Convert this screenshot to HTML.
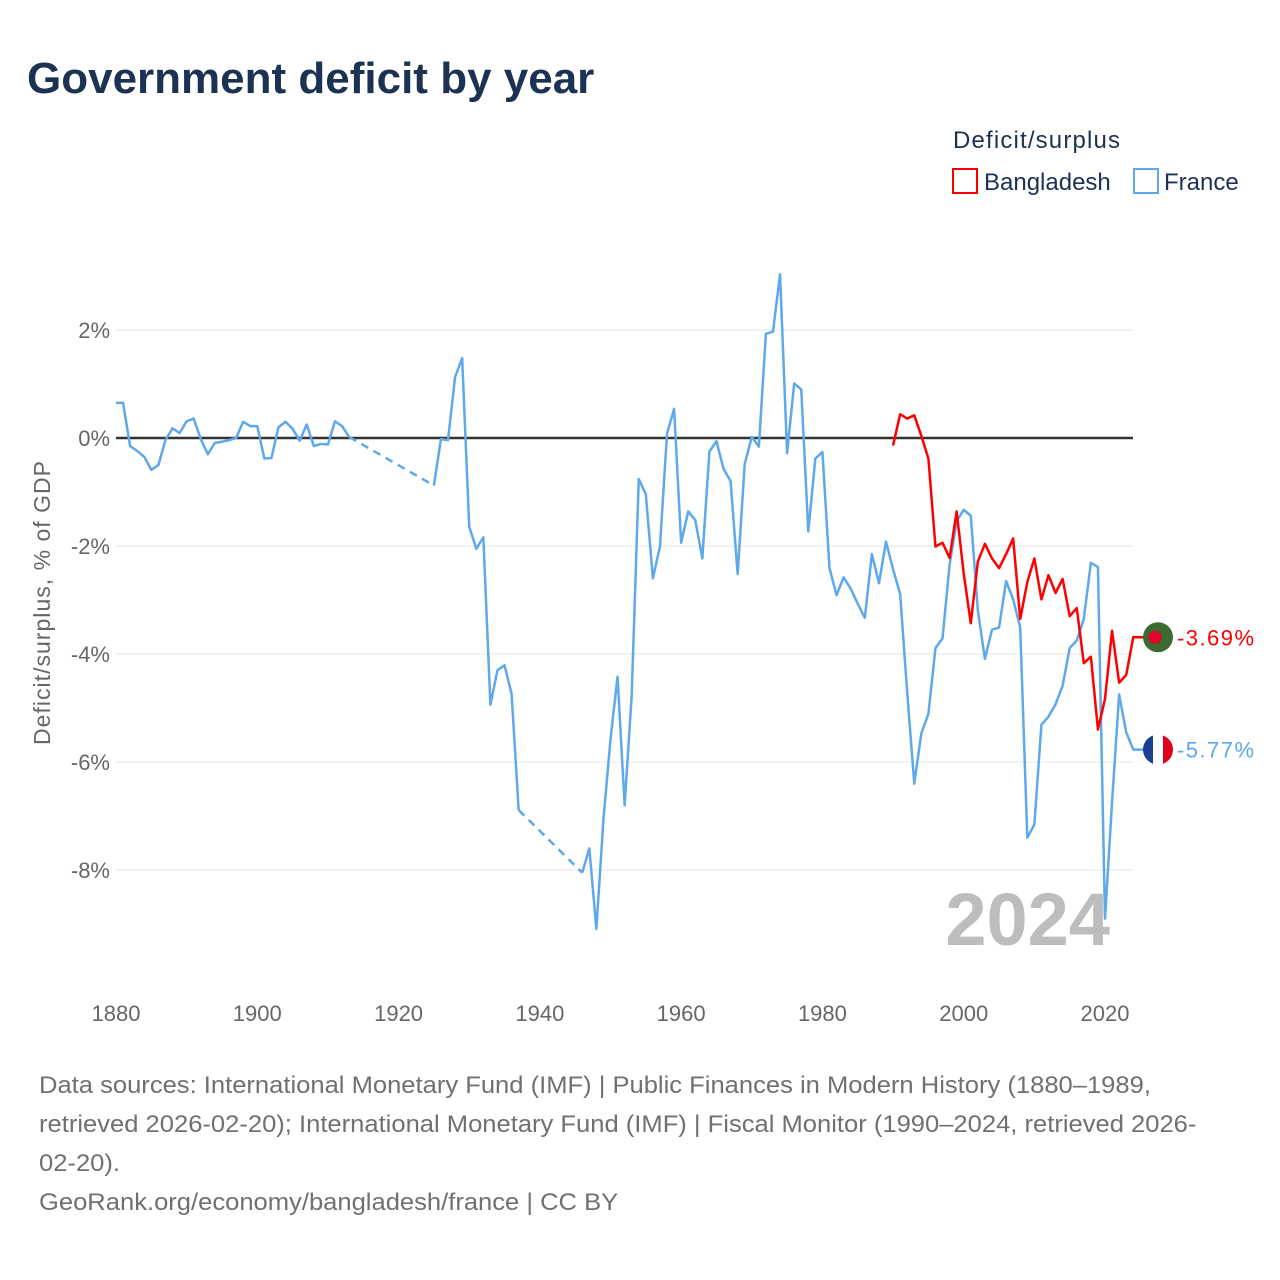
<!DOCTYPE html>
<html><head><meta charset="utf-8"><style>
body{margin:0;background:#fff;font-family:"Liberation Sans",sans-serif;}
#wrap{position:relative;width:1280px;height:1280px;overflow:hidden;}
</style></head><body>
<div id="wrap">
<svg id="chart" width="1280" height="1280" style="position:absolute;left:0;top:0;font-family:'Liberation Sans',sans-serif;">
<text x="27" y="93" font-size="44" font-weight="bold" fill="#1b3252">Government deficit by year</text>
<text x="953" y="148" font-size="24" fill="#1b3252" textLength="167">Deficit/surplus</text>
<g><rect x="953" y="169" width="24" height="24" fill="#fff" stroke="#f00" stroke-width="2"/><text x="984" y="190" font-size="24" fill="#1b3252">Bangladesh</text></g>
<g><rect x="1134" y="169" width="24" height="24" fill="#fff" stroke="#5ea8ec" stroke-width="2"/><text x="1164" y="190" font-size="24" fill="#1b3252">France</text></g>
<g id="grid"></g><g id="lines"></g><g id="labels"></g>
<text transform="translate(50,603) rotate(-90)" text-anchor="middle" font-size="23" fill="#666" textLength="284">Deficit/surplus, % of GDP</text>
<text x="1110" y="945" text-anchor="end" font-size="74" font-weight="bold" fill="#bdbdbd">2024</text>
</svg>
<div style="position:absolute;left:39px;top:1066px;white-space:nowrap;font-size:24px;line-height:39px;color:#707070;transform:scaleX(1.065);transform-origin:0 0;">Data sources: International Monetary Fund (IMF) | Public Finances in Modern History (1880–1989,<br>retrieved 2026-02-20); International Monetary Fund (IMF) | Fiscal Monitor (1990–2024, retrieved 2026-<br>02-20).<br><span>GeoRank.org/economy/bangladesh/france | CC BY</span></div>
</div>
<script>
const xTicks=[1880,1900,1920,1940,1960,1980,2000,2020];
const yTicks=[2,0,-2,-4,-6,-8];
const franceYears=[];for(let y=1880;y<=2024;y++)franceYears.push(y);
const franceValues=[0.65,0.65,-0.15,-0.24,-0.35,-0.59,-0.5,-0.04,0.18,0.09,0.31,0.36,-0.02,-0.3,-0.09,-0.07,-0.04,0,0.3,0.22,
0.22,-0.38,-0.37,0.2,0.3,0.17,-0.05,0.25,-0.15,-0.11,-0.12,0.31,0.22,0.02,null,null,null,null,null,null,
null,null,null,null,null,-0.88,-0.02,-0.04,1.13,1.48,-1.64,-2.05,-1.84,-4.94,-4.3,-4.21,-4.74,-6.89,null,null,
null,null,null,null,null,null,-8.05,-7.6,-9.09,-7.06,-5.58,-4.42,-6.8,-4.77,-0.76,-1.04,-2.6,-2.01,0.08,0.54,
-1.94,-1.36,-1.52,-2.23,-0.25,-0.06,-0.57,-0.8,-2.52,-0.48,0.02,-0.16,1.93,1.97,3.03,-0.28,1.01,0.9,-1.73,-0.38,
-0.26,-2.41,-2.91,-2.58,-2.79,-3.07,-3.33,-2.15,-2.69,-1.92,-2.43,-2.89,-4.71,-6.4,-5.47,-5.11,-3.89,-3.71,-2.35,-1.54,
-1.33,-1.44,-3.19,-4.09,-3.55,-3.51,-2.65,-2.99,-3.51,-7.4,-7.16,-5.31,-5.16,-4.93,-4.59,-3.89,-3.75,-3.35,-2.31,-2.39,
-8.9,-6.74,-4.75,-5.45,-5.77];
const bdYears=[];for(let y=1990;y<=2024;y++)bdYears.push(y);
const bdValues=[-0.14,0.44,0.36,0.42,0.04,-0.38,-2.01,-1.94,-2.22,-1.36,-2.51,-3.43,-2.29,-1.96,-2.23,-2.41,-2.15,-1.86,-3.35,-2.67,
-2.23,-2.99,-2.54,-2.87,-2.61,-3.3,-3.15,-4.17,-4.05,-5.4,-4.83,-3.57,-4.53,-4.39,-3.69];
const NS='http://www.w3.org/2000/svg';
const X=yr=>116+(yr-1880)*(1105-116)/140;
const Y=v=>438-v*54;
function mk(tag,attrs,parent){const e=document.createElementNS(NS,tag);for(const k in attrs)e.setAttribute(k,attrs[k]);parent.appendChild(e);return e;}
const grid=document.getElementById('grid'),lines=document.getElementById('lines'),labels=document.getElementById('labels');
yTicks.forEach(t=>{
 const l=mk('line',{x1:116,x2:1133,y1:Y(t),y2:Y(t),stroke:t===0?'#333':'#e6e6e6','stroke-width':t===0?2.5:1},grid);
 
 
 const tx=mk('text',{x:110,y:Y(t)+8,'text-anchor':'end','font-size':22,fill:'#666'},labels);
 tx.textContent=t+'%';
 
 
});
xTicks.forEach(t=>{
 const tx=mk('text',{x:X(t),y:1021,'text-anchor':'middle','font-size':22,fill:'#666'},labels);
 tx.textContent=t;
 
 
});
function drawSeries(years,vals,color,name){
 let seg=[],last=null;
 const flush=()=>{if(seg.length>1){const p=mk('polyline',{points:seg.join(' '),fill:'none',stroke:color,'stroke-width':2.5,'stroke-linejoin':'round'},lines);
  
  }seg=[];};
 years.forEach((yr,i)=>{const v=vals[i];
  if(v===null||v===undefined){flush();return;}
  if(last&&last.i!==i-1){const d=mk('line',{x1:X(last.yr),y1:Y(last.v),x2:X(yr),y2:Y(v),stroke:color,'stroke-width':2.5,'stroke-dasharray':'8,6'},lines);
   
   }
  seg.push(X(yr)+','+Y(v));last={i,yr,v};});
 seg.push('1145,'+Y(last.v));
 flush();
 return last;
}
const fl=drawSeries(franceYears,franceValues,'#5ea8ec','france');
const bl=drawSeries(bdYears,bdValues,'#ff0000','bangladesh');
const bg=mk('g',{},labels);


mk('circle',{cx:1158,cy:Y(bl.v),r:15,fill:'#3b6b30'},bg);
mk('circle',{cx:1155,cy:Y(bl.v),r:6.5,fill:'#e4002b'},bg);
const bt=mk('text',{x:1177,y:Y(bl.v)+8,'font-size':22,fill:'#ff0000',textLength:77},labels);
bt.textContent=bl.v.toFixed(2)+'%';


const fg=mk('g',{},labels);


const fy=Y(fl.v);
mk('clipPath',{id:'fc'},fg);mk('circle',{cx:1158,cy:fy,r:15},document.getElementById('fc'));
mk('rect',{x:1143,y:fy-15,width:10,height:30,fill:'#1c3f94','clip-path':'url(#fc)'},fg);
mk('rect',{x:1153,y:fy-15,width:10,height:30,fill:'#fff','clip-path':'url(#fc)'},fg);
mk('rect',{x:1163,y:fy-15,width:10,height:30,fill:'#e1001a','clip-path':'url(#fc)'},fg);
const ft=mk('text',{x:1177,y:fy+8,'font-size':22,fill:'#5ea8ec',textLength:77},labels);
ft.textContent=fl.v.toFixed(2)+'%';


</script>
</body></html>
